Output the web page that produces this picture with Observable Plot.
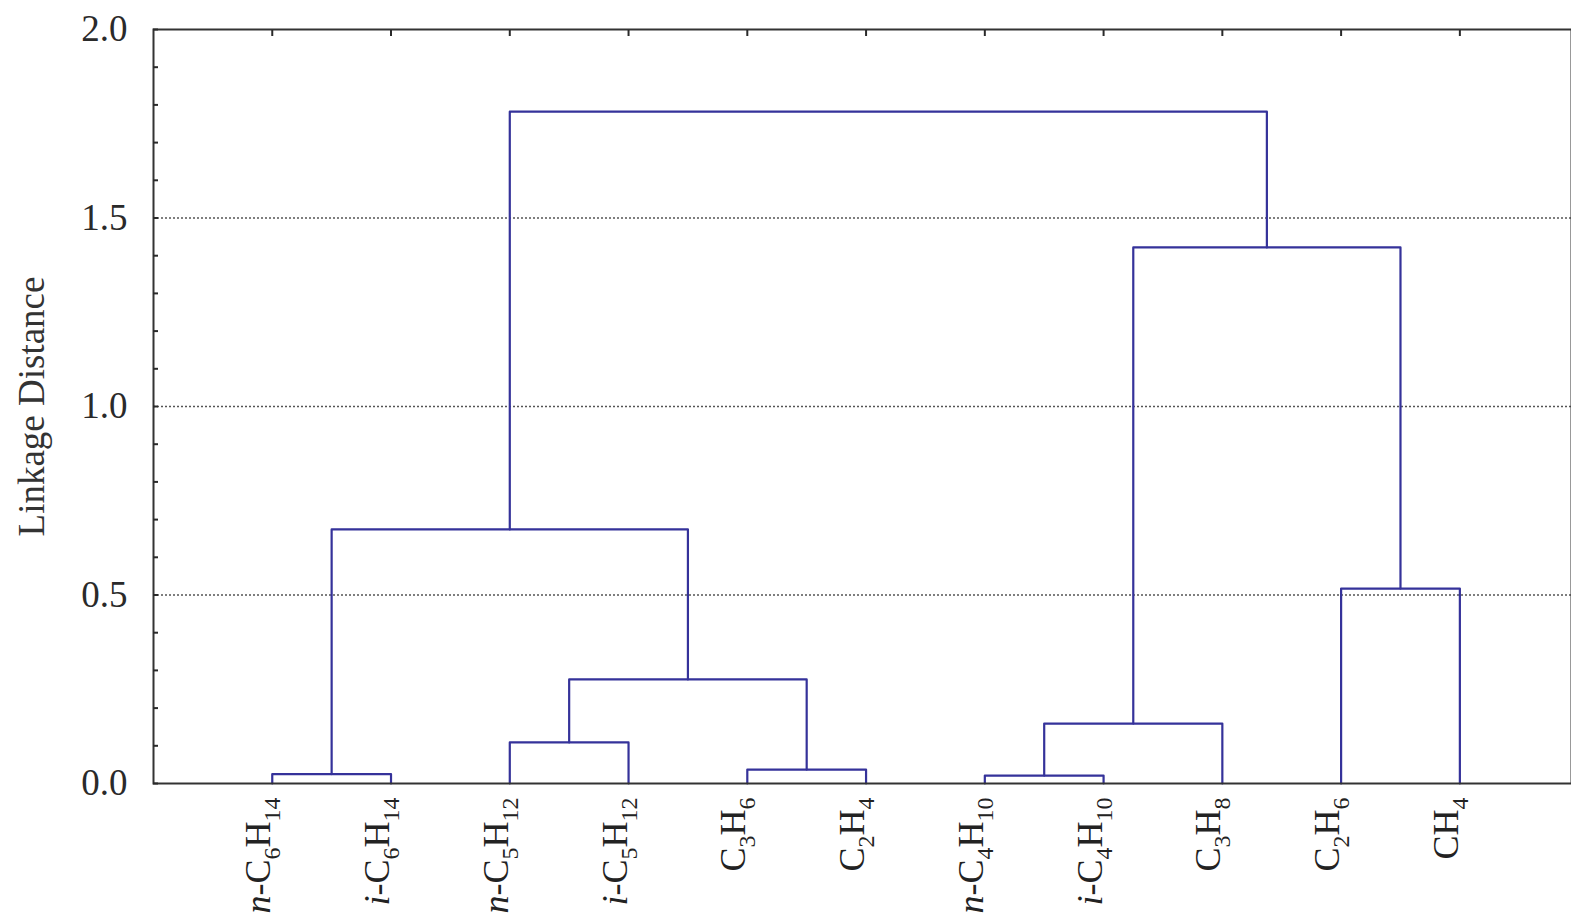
<!DOCTYPE html>
<html>
<head>
<meta charset="utf-8">
<script src="https://cdn.jsdelivr.net/npm/d3@7"></script>
<script src="https://cdn.jsdelivr.net/npm/@observablehq/plot@0.6"></script>
<style>
  html, body { margin: 0; padding: 0; background: #fff; }
  #chart svg { display: block; }
</style>
</head>
<body>
<div id="chart"></div>
<script>
// Leaf order along the horizontal axis
const leaves = ["n-C6H14", "i-C6H14", "n-C5H12", "i-C5H12", "C3H6", "C2H4",
                "n-C4H10", "i-C4H10", "C3H8", "C2H6", "CH4"];

// Agglomeration steps: indices < leaves.length are leaves, larger ones are earlier clusters
const mergeLeft   = [0, 2, 4, 12, 11, 6, 16, 9, 17, 15];
const mergeRight  = [1, 3, 5, 13, 14, 7, 8, 10, 18, 19];
const mergeHeight = [0.025, 0.109, 0.037, 0.276, 0.674, 0.021, 0.159, 0.517, 1.422, 1.782];

const gridValues  = [0.5, 1.0, 1.5];
const yTicks      = [0.0, 0.5, 1.0, 1.5, 2.0];
const yMinorTicks = d3.range(0, 21).map(i => i / 10);

// Node positions: leaves sit at 1..n on the baseline, clusters at the mean of their children
const nodeX = leaves.map((_, i) => i + 1);
const nodeY = leaves.map(() => 0);
const segments = [];
mergeHeight.forEach((h, k) => {
  const a = mergeLeft[k], b = mergeRight[k];
  segments.push(
    {id: k, x: nodeX[a], y: nodeY[a]},
    {id: k, x: nodeX[a], y: h},
    {id: k, x: nodeX[b], y: h},
    {id: k, x: nodeX[b], y: nodeY[b]}
  );
  nodeX.push((nodeX[a] + nodeX[b]) / 2);
  nodeY.push(h);
});
const leafX = nodeX.slice(0, leaves.length);

const serif = '"Liberation Serif", "Times New Roman", "DejaVu Serif", serif';

const chart = Plot.plot({
  width: 1571,
  height: 919,
  marginLeft: 153,
  marginTop: 29,
  marginBottom: 136,
  marginRight: 0,
  style: {fontFamily: serif, background: "#fff", color: "#2a2a2a"},
  x: {domain: [0, 11.94], label: null},
  y: {domain: [0, 2], label: null},
  marks: [
    Plot.ruleY(gridValues, {stroke: "#555", strokeWidth: 1.6, strokeDasharray: "2,2"}),
    Plot.line(segments, {x: "x", y: "y", z: "id", stroke: "#35329a", strokeWidth: 2.2}),
    Plot.frame({stroke: "#333", strokeWidth: 2}),
    Plot.axisY(yTicks, {tickSize: 0, tickPadding: 26, fontSize: 37, tickFormat: d3.format(".1f"), label: null, fill: "#2a2a2a"}),
    Plot.axisY(yMinorTicks, {tickSize: -5, strokeWidth: 2, fill: "none", label: null}),
    Plot.axisX(leafX, {anchor: "top", tickSize: -6, strokeWidth: 2, fill: "none", label: null}),
    Plot.text(leaves, {x: (d, i) => leafX[i], frameAnchor: "bottom", rotate: -90, textAnchor: "end",
                       dy: 14, dx: -2, fontSize: 36, fill: "#222"}),
    Plot.text(["Linkage Distance"], {frameAnchor: "left", dx: -121, rotate: -90, textAnchor: "middle",
                                     fontSize: 37, fill: "#333"})
  ]
});

// Chemical formulas: italic isomer prefix and subscripted atom counts
const leafSet = new Set(leaves);
d3.select(chart).selectAll("text").each(function () {
  const label = this.textContent;
  if (!leafSet.has(label) || this.childElementCount > 0) return;
  this.textContent = "";
  const sel = d3.select(this);
  let body = label;
  const m = label.match(/^([ni])-(.*)$/);
  if (m) {
    sel.append("tspan").attr("font-style", "italic").text(m[1]);
    sel.append("tspan").text("-");
    body = m[2];
  }
  let shifted = false;
  for (const part of body.match(/[A-Z][a-z]?|\d+/g)) {
    if (/\d/.test(part)) {
      sel.append("tspan").attr("font-size", 24).attr("dy", shifted ? 0 : 10).text(part);
      shifted = true;
    } else {
      const t = sel.append("tspan").text(part);
      if (shifted) { t.attr("dy", -10); shifted = false; }
    }
  }
});

document.getElementById("chart").appendChild(chart);
</script>
</body>
</html>
